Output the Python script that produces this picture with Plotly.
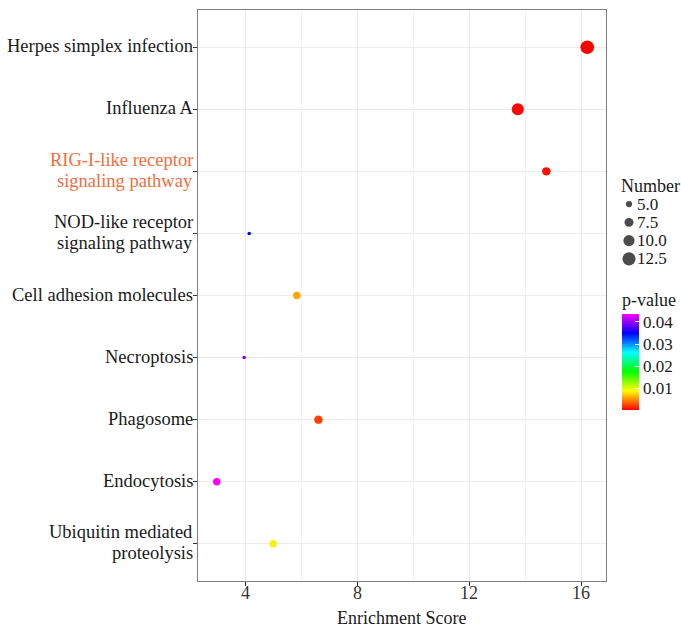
import numpy as np
import plotly.graph_objects as go

# ---------------- data ----------------
pathways = [
    "Herpes simplex infection",
    "Influenza A",
    "RIG-I-like receptor\nsignaling pathway",
    "NOD-like receptor\nsignaling pathway",
    "Cell adhesion molecules",
    "Necroptosis",
    "Phagosome",
    "Endocytosis",
    "Ubiquitin mediated\nproteolysis",
]
enrichment_score = [16.21, 13.73, 14.75, 4.14, 5.84, 3.96, 6.61, 2.98, 4.99]
gene_number = [13, 11, 7, 3, 6, 3, 7, 6, 6]
p_value = [0.0001, 0.0003, 0.0006, 0.0349, 0.0057, 0.0392, 0.0023, 0.0436, 0.0083]

highlight = "RIG-I-like receptor\nsignaling pathway"
x_ticks = [4, 8, 12, 16]
x_tick_labels = ["4", "8", "12", "16"]
size_breaks = [5.0, 7.5, 10.0, 12.5]
size_break_labels = ["5.0", "7.5", "10.0", "12.5"]
p_ticks = [0.01, 0.02, 0.03, 0.04]
p_tick_labels = ["0.01", "0.02", "0.03", "0.04"]

# ---------------- layout helpers ----------------
W, H = 681, 628
ML, MR, MT, MB = 198, 0, 10, 47
PW = W - ML - MR
PH = H - MT - MB


def px_x(px):
    return (px - ML) / PW


def px_y(py):
    return 1 - (py - MT) / PH


FONT = "Liberation Serif"
D_MIN, D_MAX = 3.6, 13.6
n_lo, n_hi = min(gene_number), max(gene_number)


def diam(n):
    s = np.sqrt(np.asarray(n, dtype=float))
    return D_MIN + (s - np.sqrt(n_lo)) / (np.sqrt(n_hi) - np.sqrt(n_lo)) * (D_MAX - D_MIN)


rainbow = [[0.0, "#FF0000"], [0.2, "#FFFF00"], [0.4, "#00FF00"],
           [0.6, "#00FFFF"], [0.8, "#0000FF"], [1.0, "#FF00FF"]]

fig = go.Figure()

fig.add_trace(go.Scatter(
    x=enrichment_score, y=pathways, mode="markers",
    marker=dict(
        size=diam(gene_number), color=p_value, colorscale=rainbow,
        cmin=min(p_value), cmax=max(p_value), line=dict(width=0), opacity=1,
        colorbar=dict(
            title=dict(text="p-value", side="top", font=dict(family=FONT, size=18, color="#1a1a1a")),
            tickvals=p_ticks, ticktext=p_tick_labels,
            ticks="inside", tickcolor="white", ticklen=4, tickwidth=1,
            thickness=17, thicknessmode="pixels",
            len=121, lenmode="pixels",
            x=px_x(622), xanchor="left", xpad=0,
            y=px_y(289), yanchor="top", ypad=0,
            outlinewidth=0,
            tickfont=dict(family=FONT, size=17, color="#1a1a1a"),
        ),
    ),
    showlegend=False, hoverinfo="x+y",
))

# size legend (hidden axes)
fig.add_trace(go.Scatter(
    x=[0] * len(size_breaks), y=list(range(len(size_breaks))),
    xaxis="x2", yaxis="y2", mode="markers",
    marker=dict(size=diam(size_breaks), color="black", line=dict(width=0)),
    showlegend=False, hoverinfo="skip",
))

annotations = []
for i, lab in enumerate(size_break_labels):
    annotations.append(dict(
        text=lab, xref="paper", x=px_x(635), xanchor="left",
        yref="y2", y=i, yanchor="middle", showarrow=False,
        font=dict(family=FONT, size=17, color="#1a1a1a"),
    ))
annotations.append(dict(
    text="Number", xref="paper", x=px_x(619), xanchor="left",
    yref="paper", y=px_y(186), yanchor="middle", showarrow=False,
    font=dict(family=FONT, size=18, color="#1a1a1a"),
))

# x tick labels
for v, lab in zip(x_ticks, x_tick_labels):
    annotations.append(dict(
        text=lab, xref="x", x=v, xanchor="center",
        yref="paper", y=0, yanchor="middle", yshift=-12,
        showarrow=False, font=dict(family=FONT, size=18, color="#333333"),
    ))

# y category labels
LINE_PX = 21
for cat in pathways:
    lines = cat.split("\n")
    n = len(lines)
    color = "#F06E3C" if cat == highlight else "#1a1a1a"
    for j, line in enumerate(lines):
        annotations.append(dict(
            text=line, xref="paper", x=0, xanchor="right", xshift=-3,
            yref="y", y=cat, yanchor="middle",
            yshift=((n - 1) / 2 - j) * LINE_PX + 1,
            showarrow=False, font=dict(family=FONT, size=18.5, color=color),
        ))

fig.update_layout(
    width=W, height=H,
    margin=dict(l=ML, r=MR, t=MT, b=MB, pad=0),
    paper_bgcolor="white", plot_bgcolor="white",
    font=dict(family=FONT, size=18, color="#1a1a1a"),
    xaxis=dict(
        domain=[0, px_x(605.7)], range=[2.31, 16.87],
        tickvals=x_ticks, ticks="outside", ticklen=4, tickcolor="#333333",
        showticklabels=False,
        showgrid=True, gridcolor="#EBEBEB", gridwidth=1.1,
        minor=dict(dtick=2, tick0=0, showgrid=True, gridcolor="#F3F3F3", gridwidth=0.6),
        showline=True, mirror=True, linecolor="#7F7F7F", linewidth=1.2,
        zeroline=False,
        title=dict(text="Enrichment Score", standoff=26, font=dict(family=FONT, size=18, color="#1a1a1a")),
    ),
    yaxis=dict(
        type="category", categoryorder="array", categoryarray=pathways,
        range=[8.6, -0.6], showticklabels=False,
        ticks="outside", ticklen=4, tickcolor="#333333",
        showgrid=True, gridcolor="#EBEBEB", gridwidth=1.1,
        showline=True, mirror=True, linecolor="#7F7F7F", linewidth=1.2,
        zeroline=False,
    ),
    xaxis2=dict(domain=[px_x(619), px_x(639)], range=[-1, 1], visible=False, anchor="y2", fixedrange=True),
    yaxis2=dict(domain=[px_y(268), px_y(195)], range=[3.5, -0.5], visible=False, anchor="x2", fixedrange=True),
    annotations=annotations,
)

fig.write_html(
    "out.html",
    config={"displayModeBar": False},
    post_script="document.body.style.margin='0px';document.body.style.padding='0px';",
)
